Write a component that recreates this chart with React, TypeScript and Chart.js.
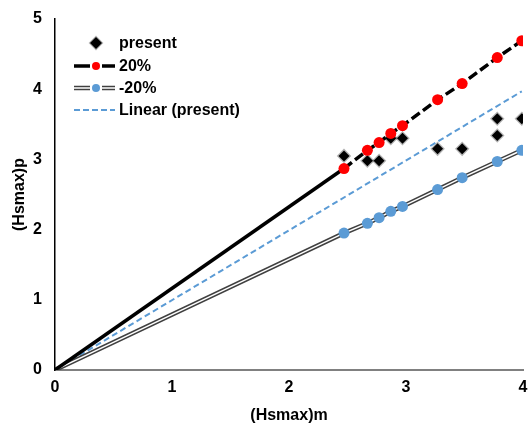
import React, { useEffect, useRef } from "react";
import { Chart, registerables } from "chart.js";

Chart.register(...registerables);

// ---- data ----
const origin = { x: 0, y: 0 };
const presentX = [2.47, 2.67, 2.77, 2.87, 2.97, 3.27, 3.48, 3.78, 3.78, 3.99];
const presentY = [3.05, 2.98, 2.98, 3.3, 3.3, 3.15, 3.15, 3.58, 3.34, 3.58];
const seriesX = [2.47, 2.67, 2.77, 2.87, 2.97, 3.27, 3.48, 3.78, 3.99];
const plus20Y = [2.87, 3.13, 3.24, 3.37, 3.48, 3.85, 4.08, 4.45, 4.69];
const minus20Y = [1.95, 2.09, 2.17, 2.26, 2.33, 2.57, 2.74, 2.97, 3.13];
const xTicks = [0, 1, 2, 3, 4];
const yTicks = [0, 1, 2, 3, 4, 5];
const legendLabels = ["present", "20%", "-20%", "Linear (present)"];
const xTitle = "(Hsmax)m";
const yTitle = "(Hsmax)p";

const FONT = '"Liberation Sans", Arial, sans-serif';
const BLUE = "#5B9BD5";

function pts(xs: number[], ys: number[]) {
  return xs.map((x, i) => ({ x, y: ys[i] }));
}

// linear trendline through origin (least squares) from the "present" data
function trendSlope() {
  let sxy = 0;
  let sxx = 0;
  presentX.forEach((x, i) => {
    sxy += x * presentY[i];
    sxx += x * x;
  });
  return sxy / sxx;
}

const legendPlugin = {
  id: "customLegend",
  afterDraw(chart: any) {
    const ctx = chart.ctx as CanvasRenderingContext2D;
    const x0 = 74;
    const x1 = 115;
    const cx = 96;
    const tx = 119;
    const rows = [43, 66, 88, 110];
    ctx.save();
    // row 1: diamond
    ctx.beginPath();
    ctx.moveTo(cx, rows[0] - 6);
    ctx.lineTo(cx + 6, rows[0]);
    ctx.lineTo(cx, rows[0] + 6);
    ctx.lineTo(cx - 6, rows[0]);
    ctx.closePath();
    ctx.fillStyle = "#000";
    ctx.strokeStyle = "rgba(0,0,0,0.3)";
    ctx.lineWidth = 2;
    ctx.fill();
    ctx.stroke();
    // row 2: black line with red dot
    ctx.strokeStyle = "#000";
    ctx.lineWidth = 3.5;
    ctx.beginPath();
    ctx.moveTo(x0, rows[1]);
    ctx.lineTo(90, rows[1]);
    ctx.moveTo(102, rows[1]);
    ctx.lineTo(x1, rows[1]);
    ctx.stroke();
    ctx.fillStyle = "#FF0000";
    ctx.beginPath();
    ctx.arc(cx, rows[1], 4, 0, Math.PI * 2);
    ctx.fill();
    // row 3: double line with blue dot
    ctx.strokeStyle = "#404040";
    ctx.lineWidth = 4.5;
    ctx.beginPath();
    ctx.moveTo(x0, rows[2]);
    ctx.lineTo(90, rows[2]);
    ctx.moveTo(102, rows[2]);
    ctx.lineTo(x1, rows[2]);
    ctx.stroke();
    ctx.strokeStyle = "#fff";
    ctx.lineWidth = 1.5;
    ctx.stroke();
    ctx.fillStyle = BLUE;
    ctx.beginPath();
    ctx.arc(cx, rows[2], 4, 0, Math.PI * 2);
    ctx.fill();
    // row 4: dashed blue
    ctx.strokeStyle = BLUE;
    ctx.lineWidth = 2;
    ctx.setLineDash([6, 3]);
    ctx.beginPath();
    ctx.moveTo(x0, rows[3]);
    ctx.lineTo(x1, rows[3]);
    ctx.stroke();
    ctx.setLineDash([]);
    // texts
    ctx.fillStyle = "#000";
    ctx.font = `bold 16px ${FONT}`;
    ctx.textBaseline = "middle";
    ctx.textAlign = "left";
    legendLabels.forEach((t, i) => ctx.fillText(t, tx, rows[i] + 1));
    ctx.restore();
  },
};

export default function App() {
  const ref = useRef<HTMLCanvasElement | null>(null);

  useEffect(() => {
    document.body.style.margin = "0";
    if (!ref.current) return;
    const slope = trendSlope();
    const maxX = Math.max(...presentX);
    const plusLine = [origin, ...pts(seriesX, plus20Y)];
    const minusLine = [origin, ...pts(seriesX, minus20Y)];
    const chart = new Chart(ref.current, {
      type: "scatter",
      data: {
        datasets: [
          {
            label: legendLabels[0],
            data: pts(presentX, presentY),
            pointStyle: "rectRot",
            pointRadius: 5.5,
            pointBackgroundColor: "#000",
            pointBorderColor: "rgba(0,0,0,0.3)",
            pointBorderWidth: 2.5,
            showLine: false,
            order: 6,
          },
          {
            label: legendLabels[3],
            data: [origin, { x: maxX, y: slope * maxX }],
            showLine: true,
            borderColor: BLUE,
            borderWidth: 2,
            borderDash: [6, 3.5],
            pointRadius: 0,
            order: 5,
          },
          {
            label: "-20% outer",
            data: minusLine,
            showLine: true,
            borderColor: "#404040",
            borderWidth: 4.5,
            pointRadius: 0,
            order: 4,
          },
          {
            label: "-20% inner",
            data: minusLine,
            showLine: true,
            borderColor: "#ffffff",
            borderWidth: 1.5,
            pointRadius: 0,
            order: 3,
          },
          {
            label: legendLabels[2],
            data: pts(seriesX, minus20Y),
            showLine: false,
            pointRadius: 5.5,
            pointBackgroundColor: BLUE,
            pointBorderColor: BLUE,
            pointBorderWidth: 0,
            order: 2,
          },
          {
            label: legendLabels[1],
            data: plusLine,
            showLine: true,
            borderColor: "#000",
            borderWidth: 3.5,
            segment: {
              borderDash: (c: any) => (c.p0DataIndex === 0 ? [] : [10, 4]),
            },
            pointRadius: (c: any) => (c.dataIndex === 0 ? 0 : 5.5),
            pointBackgroundColor: "#FF0000",
            pointBorderColor: "#FF0000",
            pointBorderWidth: 0,
            order: 1,
          },
        ],
      },
      options: {
        animation: false,
        responsive: false,
        layout: { padding: { top: 19, right: 9, left: 0, bottom: 0 } },
        plugins: {
          legend: { display: false },
          tooltip: { enabled: false },
        },
        scales: {
          x: {
            type: "linear",
            min: 0,
            max: 4,
            afterBuildTicks: (s: any) => {
              s.ticks = xTicks.map((v) => ({ value: v }));
            },
            afterFit: (s: any) => {
              s.height = 54;
              s.paddingRight = 0;
              s.paddingLeft = 0;
            },
            ticks: {
              color: "#000",
              font: { family: FONT, size: 16, weight: "bold" },
              padding: 8,
              maxRotation: 0,
            },
            grid: { display: false, drawTicks: false },
            border: { display: true, color: "#808080", width: 2 },
            title: {
              display: true,
              text: xTitle,
              color: "#000",
              font: { family: FONT, size: 16, weight: "bold", lineHeight: 1.1 },
              padding: { top: 0, bottom: 0 },
            },
          },
          y: {
            type: "linear",
            min: 0,
            max: 5,
            afterBuildTicks: (s: any) => {
              s.ticks = yTicks.map((v) => ({ value: v }));
            },
            afterFit: (s: any) => {
              s.width = 55;
              s.paddingTop = 0;
              s.paddingBottom = 0;
            },
            ticks: {
              color: "#000",
              font: { family: FONT, size: 16, weight: "bold" },
              padding: 13,
            },
            grid: { display: false, drawTicks: false },
            border: { display: true, color: "#000", width: 1.5 },
            title: {
              display: true,
              text: yTitle,
              color: "#000",
              font: { family: FONT, size: 16, weight: "bold" },
              padding: { top: 10, bottom: 0 },
            },
          },
        },
      },
      plugins: [legendPlugin],
    } as any);
    return () => chart.destroy();
  }, []);

  return (
    <div style={{ width: 532, height: 424, background: "#fff" }}>
      <canvas ref={ref} width={532} height={424} />
    </div>
  );
}
